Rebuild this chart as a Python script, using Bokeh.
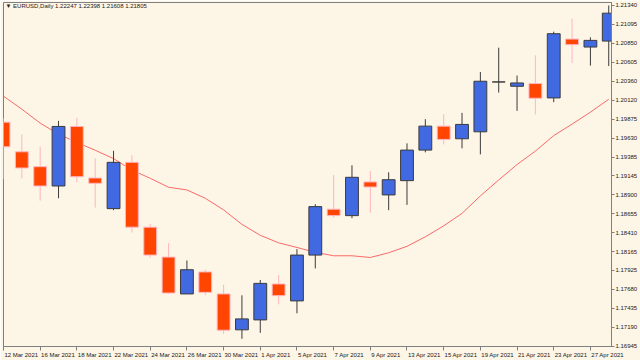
from bokeh.plotting import figure
from bokeh.models import (ColumnDataSource, Range1d, FixedTicker, PrintfTickFormatter, Label)
from bokeh.embed import file_html
from bokeh.resources import INLINE

# ---------------- data ----------------
dates = ["12 Mar 2021", "15 Mar 2021", "16 Mar 2021", "17 Mar 2021", "18 Mar 2021",
         "19 Mar 2021", "22 Mar 2021", "23 Mar 2021", "24 Mar 2021", "25 Mar 2021",
         "26 Mar 2021", "29 Mar 2021", "30 Mar 2021", "31 Mar 2021", "1 Apr 2021",
         "2 Apr 2021", "5 Apr 2021", "6 Apr 2021", "7 Apr 2021", "8 Apr 2021",
         "9 Apr 2021", "12 Apr 2021", "13 Apr 2021", "14 Apr 2021", "15 Apr 2021",
         "16 Apr 2021", "19 Apr 2021", "20 Apr 2021", "21 Apr 2021", "22 Apr 2021",
         "23 Apr 2021", "26 Apr 2021", "27 Apr 2021", "28 Apr 2021"]

opens = [1.19835, 1.19453, 1.19261, 1.19012, 1.19780, 1.19115, 1.18720, 1.19317,
         1.18481, 1.18095, 1.17620, 1.17903, 1.17620, 1.17157, 1.17285, 1.17748,
         1.17530, 1.18121, 1.18713, 1.18630, 1.19064, 1.18897, 1.19081, 1.19475,
         1.19784, 1.19621, 1.19711, 1.20354, 1.20298, 1.20333, 1.20148, 1.20907,
         1.20804, 1.20881]
highs = [1.19887, 1.19677, 1.19518, 1.19852, 1.19891, 1.19369, 1.19466, 1.19411,
         1.18520, 1.18275, 1.18052, 1.17936, 1.17739, 1.17602, 1.17800, 1.17864,
         1.18198, 1.18777, 1.19154, 1.19279, 1.19205, 1.19189, 1.19562, 1.19874,
         1.19938, 1.19955, 1.20482, 1.20796, 1.20436, 1.20697, 1.21002, 1.21169,
         1.20929, 1.21340]
lows = [1.19102, 1.19111, 1.18823, 1.18854, 1.19060, 1.18733, 1.18700, 1.18412,
        1.18090, 1.17620, 1.17617, 1.17602, 1.17105, 1.17041, 1.17118, 1.17486,
        1.17370, 1.17949, 1.18605, 1.18597, 1.18669, 1.18700, 1.18768, 1.19446,
        1.19549, 1.19497, 1.19420, 1.20217, 1.19981, 1.19934, 1.20093, 1.20598,
        1.20565, 1.20559]
closes = [1.19518, 1.19244, 1.19012, 1.19780, 1.19132, 1.19047, 1.19317, 1.18481,
          1.18121, 1.17632, 1.17932, 1.17640, 1.17152, 1.17298, 1.17756, 1.17598,
          1.18121, 1.18746, 1.18630, 1.19124, 1.18999, 1.19093, 1.19475, 1.19784,
          1.19613, 1.19806, 1.20363, 1.20354, 1.20341, 1.20144, 1.20976, 1.20835,
          1.20890, 1.21241]
ma = [1.20170, 1.20003, 1.19823, 1.19681, 1.19574, 1.19473, 1.19365, 1.19218,
      1.19111, 1.18996, 1.18961, 1.18854, 1.18704, 1.18517, 1.18376, 1.18279,
      1.18219, 1.18157, 1.18112, 1.18112, 1.18090, 1.18151, 1.18234, 1.18357,
      1.18498, 1.18659, 1.18884, 1.19090, 1.19289, 1.19462, 1.19662, 1.19810,
      1.19964, 1.20131]

price_ticks = [1.21340, 1.21095, 1.20850, 1.20605, 1.20360, 1.20120, 1.19875,
               1.19630, 1.19385, 1.19145, 1.18900, 1.18655, 1.18410, 1.18165,
               1.17925, 1.17680, 1.17435, 1.17190, 1.16945]
header = "\u25bc EURUSD,Daily  1.22247 1.22398 1.21608 1.21805"

# ---------------- styles ----------------
BG = "#FDF5E6"
BULL_FILL = "#4169E1"
BULL_LINE = "#3c3c3c"
BEAR_FILL = "#FF4500"
BEAR_LINE = "#FFB6C1"
MA_COLOR = "#F86A6A"
FRAME = "#808080"
TXT = "#202020"
FONT = "Liberation Sans"
FONT_PX = 6
X_START, X_END = 0, 33.15
FRAME_W = 610

idx = list(range(len(dates)))
bull = [c >= o for o, c in zip(opens, closes)]
src = ColumnDataSource(dict(
    x=idx,
    top=[max(o, c) for o, c in zip(opens, closes)],
    bottom=[min(o, c) for o, c in zip(opens, closes)],
    high=highs, low=lows,
    fill=[BULL_FILL if b else BEAR_FILL for b in bull],
    line=[BULL_LINE if b else BEAR_LINE for b in bull],
))

p = figure(width=640, height=360, output_backend="svg", toolbar_location=None,
           y_axis_location="right",
           x_range=Range1d(X_START, X_END), y_range=Range1d(1.169419, 1.213786),
           min_border_left=3, min_border_right=27, min_border_top=2,
           min_border_bottom=13)
p.background_fill_color = BG
p.border_fill_color = BG
p.outline_line_color = FRAME
p.grid.visible = False

# moving average
p.line(idx, ma, line_color=MA_COLOR, line_width=1)

# wicks and bodies
p.segment(x0="x", x1="x", y0="low", y1="high", line_color="line", line_width=1, source=src)
p.vbar(x="x", width=0.7, top="top", bottom="bottom", fill_color="fill",
       line_color="line", line_width=1, source=src)

# y axis (right)
ya = p.yaxis[0]
ya.ticker = FixedTicker(ticks=price_ticks)
ya.formatter = PrintfTickFormatter(format="%.5f")
ya.major_label_text_font = FONT
ya.major_label_text_font_size = f"{FONT_PX}px"
ya.major_label_text_color = TXT
ya.major_tick_out = 3
ya.major_tick_in = 0
ya.minor_tick_out = 0
ya.minor_tick_in = 0
ya.major_label_standoff = 1
ya.axis_line_color = FRAME
ya.major_tick_line_color = FRAME

# x axis: tick marks at bars (minor ticks), labels left-aligned to the right of each tick
label_idx = idx[::2]
CW = {"0": .556, "1": .556, "2": .556, "3": .556, "4": .556, "5": .556, "6": .556,
      "7": .556, "8": .556, "9": .556, " ": .278, "M": .833, "a": .556, "r": .333,
      "A": .667, "p": .556}
px_per_unit = FRAME_W / (X_END - X_START)


def text_w(s):
    return sum(CW.get(ch, .55) for ch in s) * FONT_PX


label_pos = [i + (1 + text_w(dates[i]) / 2) / px_per_unit for i in label_idx]
xa = p.xaxis[0]
xa.ticker = FixedTicker(ticks=label_pos, minor_ticks=label_idx)
xa.major_label_overrides = {pos: dates[i] for pos, i in zip(label_pos, label_idx)}
xa.major_label_text_font = FONT
xa.major_label_text_font_size = f"{FONT_PX}px"
xa.major_label_text_color = TXT
xa.major_label_standoff = 1
xa.major_tick_out = 0
xa.major_tick_in = 0
xa.minor_tick_out = 4
xa.minor_tick_in = 0
xa.axis_line_color = FRAME
xa.minor_tick_line_color = FRAME

p.add_layout(Label(x=2, y=343.5, x_units="screen", y_units="screen", text=header,
                   text_align="left", text_baseline="top", text_font=FONT,
                   text_font_size=f"{FONT_PX}px", text_color=TXT))

open("out.html", "w").write(file_html(p, INLINE))
